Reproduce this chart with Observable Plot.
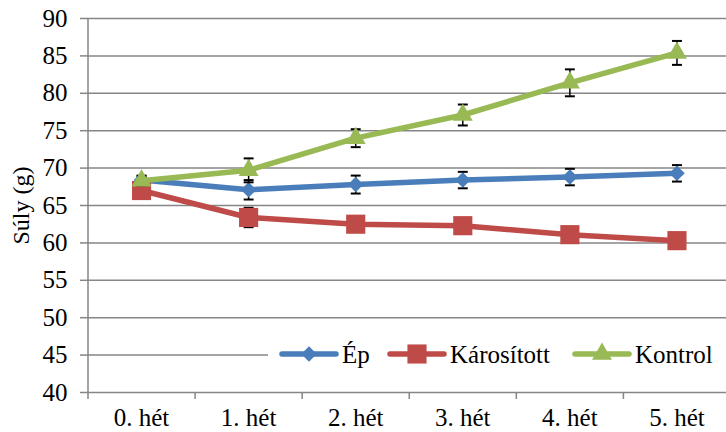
<!DOCTYPE html>
<html>
<head>
<meta charset="utf-8">
<script src="https://cdn.jsdelivr.net/npm/d3@7"></script>
<script src="https://cdn.jsdelivr.net/npm/@observablehq/plot@0.6"></script>
<style>
  html, body { margin: 0; padding: 0; background: #fff; }
  #wrap { position: relative; width: 726px; height: 432px; overflow: hidden; font-family: "Liberation Serif", serif; }
  #legend { position: absolute; left: 268px; top: 339px; width: 458px; height: 30px; background: #fff; }
</style>
</head>
<body>
<div id="wrap"><div id="chart"></div><div id="legend"></div></div>
<script>
const categories = ["0. hét", "1. hét", "2. hét", "3. hét", "4. hét", "5. hét"];
const seriesNames = ["Ép", "Károsított", "Kontrol"];
const seriesColors = ["#4A7EBB", "#BE4B48", "#98B954"];
const seriesSymbols = ["diamond2", "square", "triangle"];
const epValues = [68.4, 67.1, 67.8, 68.4, 68.8, 69.3];
const epErrors = [0.6, 1.3, 1.2, 1.1, 1.1, 1.1];
const karValues = [67.0, 63.4, 62.5, 62.3, 61.1, 60.3];
const karErrors = [0.6, 1.3, 0.9, 0.9, 0.9, 0.9];
const konValues = [68.3, 69.7, 74.0, 77.1, 81.4, 85.4];
const konErrors = [0.6, 1.6, 1.2, 1.4, 1.8, 1.6];
const yTicks = [40, 45, 50, 55, 60, 65, 70, 75, 80, 85, 90];

const valueSets = [epValues, karValues, konValues];
const errorSets = [epErrors, karErrors, konErrors];
const idx = categories.map((c, i) => i);
const bounds = categories.map((c, i) => i - 0.5).concat([categories.length - 0.5]);

const capSymbol = {
  draw(context, size) {
    const w = Math.sqrt(size);
    context.moveTo(-w / 2, 0);
    context.lineTo(w / 2, 0);
  }
};

const gray = "#868686";
const marks = [
  Plot.ruleY(yTicks, {x1: -0.5, x2: categories.length - 0.5, stroke: gray, strokeWidth: 1.5}),
  Plot.ruleX([-0.5], {y1: 40, y2: 90, stroke: gray, strokeWidth: 1.5}),
  Plot.axisY(yTicks, {tickSize: 8, tickPadding: 13, stroke: gray, strokeWidth: 1.5, fill: "#000", fontSize: 25, label: null}),
  Plot.axisX(bounds, {tickSize: 7, stroke: gray, strokeWidth: 1.5, tickFormat: () => "", label: null}),
  Plot.axisX(idx, {tickSize: 0, tickPadding: 16, fill: "#000", fontSize: 25, tickFormat: i => categories[i], label: null}),
  Plot.text(["Súly (g)"], {frameAnchor: "left", textAnchor: "middle", rotate: -90, dx: -67, fontSize: 24, fill: "#000"})
];
const symSize = {diamond2: 7.0, square: 10.8, triangle: 7.4};
seriesNames.forEach((name, s) => {
  const rows = categories.map((c, i) => ({i, v: valueSets[s][i], e: errorSets[s][i]}));
  marks.push(Plot.lineY(rows, {x: "i", y: "v", stroke: seriesColors[s], strokeWidth: 5.5, strokeLinejoin: "round", strokeLinecap: "round"}));
  marks.push(Plot.ruleX(rows, {x: "i", y1: d => d.v - d.e, y2: d => d.v + d.e, stroke: "#000", strokeWidth: 1.5}));
  marks.push(Plot.dot(rows, {x: "i", y: d => d.v + d.e, symbol: capSymbol, r: 5.6, stroke: "#000", strokeWidth: 2, fill: "none"}));
  marks.push(Plot.dot(rows, {x: "i", y: d => d.v - d.e, symbol: capSymbol, r: 5.6, stroke: "#000", strokeWidth: 2, fill: "none"}));
  marks.push(Plot.dot(rows, {x: "i", y: "v", symbol: () => seriesSymbols[s], r: symSize[seriesSymbols[s]], fill: seriesColors[s], stroke: "none"}));
});

const chart = Plot.plot({
  width: 726, height: 432,
  marginLeft: 88, marginRight: 0, marginTop: 18, marginBottom: 40,
  x: {type: "linear", domain: [-0.5, categories.length - 0.5], range: [87.5, 730]},
  y: {domain: [40, 90], range: [392, 18]},
  symbol: {type: "identity"},
  style: {fontFamily: "'Liberation Serif', serif", fontSize: "25px", color: "#000", background: "transparent", overflow: "visible"},
  marks
});
document.getElementById("chart").appendChild(chart);

// legend
const lg = d3.select("#legend").append("svg").attr("width", 458).attr("height", 30)
  .style("font-family", "'Liberation Serif', serif");
const itemX = [14, 122, 307];
seriesNames.forEach((name, s) => {
  const g = lg.append("g").attr("transform", `translate(${itemX[s]},15)`);
  g.append("line").attr("x1", 0).attr("x2", 54).attr("stroke", seriesColors[s]).attr("stroke-width", 5.5).attr("stroke-linecap", "round");
  const sym = {diamond2: d3.symbolDiamond2, square: d3.symbolSquare, triangle: d3.symbolTriangle}[seriesSymbols[s]];
  const r = symSize[seriesSymbols[s]];
  g.append("path").attr("transform", "translate(27,0)").attr("d", d3.symbol(sym, Math.PI * r * r)()).attr("fill", seriesColors[s]);
  g.append("text").attr("x", 60).attr("y", 9).attr("font-size", 25).attr("fill", "#000").text(name);
});
</script>
</body>
</html>
